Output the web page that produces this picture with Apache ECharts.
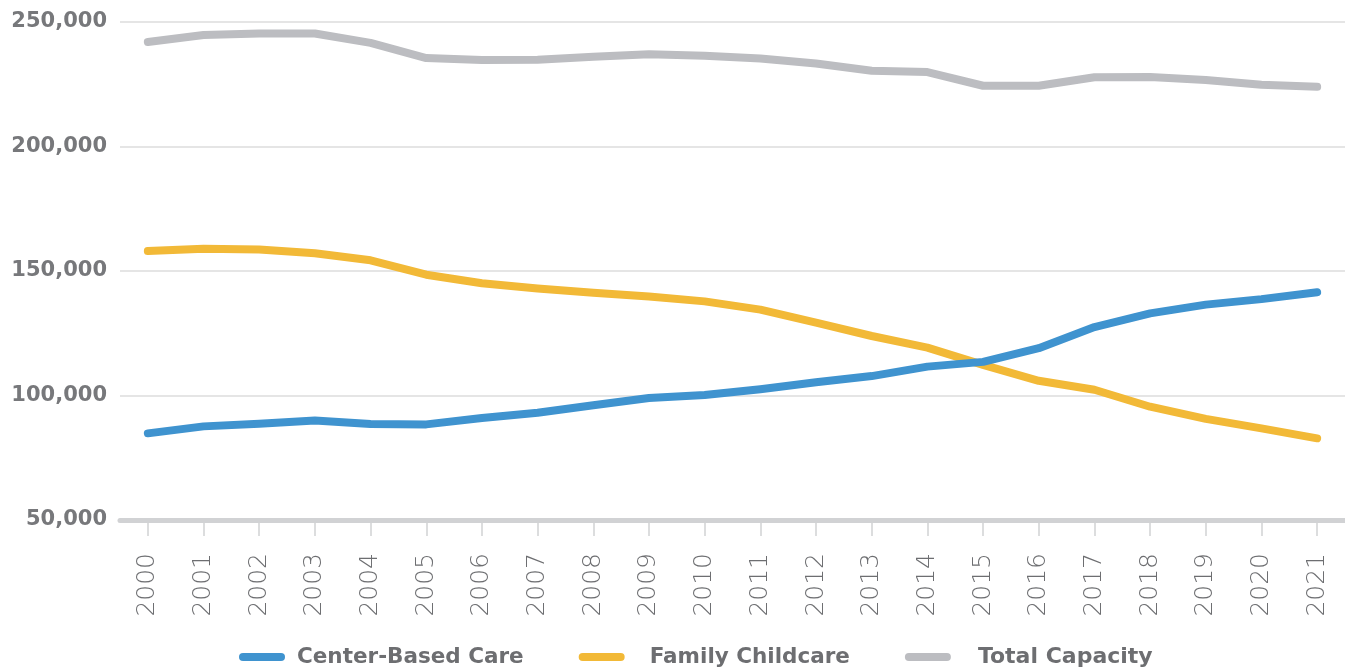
<!DOCTYPE html>
<html>
<head>
<meta charset="utf-8">
<script src="https://cdn.jsdelivr.net/npm/echarts@6/dist/echarts.min.js"></script>
<style>
html,body{margin:0;padding:0;background:#fff;}
#chart{width:1345px;height:671px;}
</style>
</head>
<body>
<div id="chart"></div>
<script>
const years = ['2000','2001','2002','2003','2004','2005','2006','2007','2008','2009','2010','2011','2012','2013','2014','2015','2016','2017','2018','2019','2020','2021'];
const centerBased = [84800, 87600, 88700, 90000, 88600, 88400, 91000, 93100, 96100, 99000, 100200, 102500, 105300, 107800, 111600, 113500, 119000, 127500, 133000, 136500, 138700, 141500];
const familyChildcare = [158000, 158900, 158600, 157100, 154300, 148500, 145100, 143000, 141300, 139800, 137800, 134500, 129300, 123900, 119200, 112300, 105900, 102300, 95500, 90600, 86800, 82800];
const totalCapacity = [242000, 244800, 245400, 245400, 241600, 235500, 234700, 234800, 236000, 237000, 236400, 235300, 233300, 230400, 229900, 224400, 224400, 227800, 227900, 226700, 224800, 224000];
const yTicks = {min: 50000, max: 250000, interval: 50000};

const chart = echarts.init(document.getElementById('chart'), null, {renderer: 'canvas'});
const legendIcon = 'path://M4,0 H42 A4,4 0 0 1 42,8 H4 A4,4 0 0 1 4,0 Z';
function mkSeries(name, data, color, z) {
  return {
    name: name, type: 'line', data: data, z: z,
    symbol: 'none', smooth: false,
    lineStyle: {color: color, width: 8, cap: 'round', join: 'round'},
    itemStyle: {color: color},
    emphasis: {disabled: true},
    animation: false
  };
}
chart.setOption({
  backgroundColor: '#ffffff',
  animation: false,
  grid: {left: 120, top: 22, width: 1228, bottom: 151, containLabel: false},
  legend: {
    bottom: -2, left: 234,
    itemWidth: 46, itemHeight: 8, itemGap: 55,
    icon: legendIcon,
    textStyle: {fontFamily: 'DejaVu Sans', fontWeight: 'bold', fontSize: 21.5, color: '#6d6e71', padding: [0, 0, 0, 7]},
    data: [
      {name: 'Center-Based Care'},
      {name: 'Family Childcare', textStyle: {padding: [0, 0, 0, 20]}},
      {name: 'Total Capacity', textStyle: {padding: [0, 0, 0, 22], fontSize: 22}}
    ]
  },
  xAxis: {
    type: 'category', data: years, boundaryGap: true,
    axisLine: {show: true, lineStyle: {color: '#d1d2d4', width: 5}},
    axisTick: {show: true, alignWithLabel: true, length: 16, lineStyle: {color: '#d1d2d4', width: 1.5}},
    axisLabel: {rotate: 90, margin: 33, fontFamily: 'DejaVu Sans', fontWeight: 200, fontSize: 25, color: '#6d6e71'},
    splitLine: {show: false}
  },
  yAxis: {
    type: 'value', min: yTicks.min, max: yTicks.max, interval: yTicks.interval,
    axisLine: {show: false}, axisTick: {show: false},
    axisLabel: {margin: 13, fontFamily: 'DejaVu Sans', fontWeight: 'bold', fontSize: 21, color: '#77787b',
      formatter: v => v.toLocaleString('en-US')},
    splitLine: {show: true, lineStyle: {color: '#dcdcdc', width: 1.5}}
  },
  series: [
    mkSeries('Center-Based Care', centerBased, '#3f93cf', 4),
    mkSeries('Family Childcare', familyChildcare, '#f2b937', 3),
    mkSeries('Total Capacity', totalCapacity, '#bcbdc1', 2)
  ]
});
</script>
</body>
</html>
